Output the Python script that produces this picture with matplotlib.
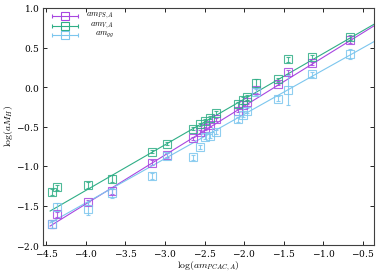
import numpy as np
import matplotlib
matplotlib.use("Agg")
import matplotlib.pyplot as plt

plt.rcParams["mathtext.fontset"] = "cm"
plt.rcParams["font.family"] = "serif"
plt.rcParams["font.serif"] = ["DejaVu Serif"]
plt.rcParams["axes.formatter.use_mathtext"] = True

# -----------------------
# Data
# -----------------------
x_pcac = [-4.43, -4.36, -3.97, -3.67, -3.16, -2.97, -2.64, -2.56, -2.49, -2.43,
          -2.35, -2.08, -2.02, -1.96, -1.85, -1.57, -1.45, -1.14, -0.66]

y_ps = [-1.73, -1.61, -1.46, -1.32, -0.96, -0.86, -0.65, -0.57, -0.52, -0.48,
        -0.41, -0.30, -0.23, -0.19, -0.04, 0.04, 0.19, 0.30, 0.59]
e_ps = [0.05, 0.03, 0.03, 0.03, 0.03, 0.02, 0.02, 0.02, 0.02, 0.02,
        0.02, 0.02, 0.02, 0.02, 0.03, 0.02, 0.03, 0.02, 0.03]

y_v = [-1.33, -1.27, -1.24, -1.16, -0.82, -0.72, -0.53, -0.47, -0.43, -0.39,
       -0.33, -0.22, -0.17, -0.13, 0.05, 0.10, 0.35, 0.38, 0.63]
e_v = [0.04, 0.03, 0.04, 0.04, 0.02, 0.02, 0.02, 0.02, 0.02, 0.02,
       0.02, 0.03, 0.04, 0.03, 0.05, 0.02, 0.03, 0.02, 0.03]

y_gg = [-1.74, -1.52, -1.54, -1.34, -1.13, -0.87, -0.89, -0.76, -0.63, -0.62,
        -0.57, -0.41, -0.35, -0.30, -0.06, -0.15, -0.04, 0.16, 0.42]
e_gg = [0.05, 0.05, 0.08, 0.06, 0.04, 0.03, 0.03, 0.03, 0.03, 0.03,
        0.03, 0.03, 0.03, 0.03, 0.04, 0.03, 0.19, 0.03, 0.06]

# fit lines (end points)
fit_x = [-4.45, -0.35]
fit_ps = [-1.76, 0.78]
fit_v = [-1.57, 0.80]
fit_gg = [-1.72, 0.58]

labels = [r"$am_{PS,A}$", r"$am_{V,A}$", r"$am_{gg}$"]
colors = ["#a846e0", "#2fae86", "#7cc6ee"]

# -----------------------
# Plot
# -----------------------
fig = plt.figure(figsize=(3.9, 2.73), dpi=100)
ax = fig.add_axes([43 / 390, 28 / 273, 331 / 390, 237 / 273])

series = [(y_ps, e_ps, fit_ps), (y_v, e_v, fit_v), (y_gg, e_gg, fit_gg)]
for (ys, es, fit), c in zip(series, colors):
    ax.errorbar(x_pcac, ys, yerr=es, fmt="s", ms=6, mfc="none", mec=c,
                mew=0.8, ecolor=c, elinewidth=0.8, capsize=1.2, alpha=0.85)
    ax.plot(fit_x, fit, color=c, lw=0.8)

# legend drawn by hand (gnuplot style, right-justified text)
for i, (lab, c) in enumerate(zip(labels, colors)):
    yk = 0.966 - i * 0.04
    ax.errorbar([0.066], [yk], xerr=[0.04], fmt="s", ms=6, mfc="none",
                mec=c, mew=0.8, ecolor=c, elinewidth=0.8, capsize=1.2,
                transform=ax.transAxes)
    ax.text(0.215, yk, lab, transform=ax.transAxes, ha="right",
            va="center", fontsize=6)

ax.set_xlim(-4.54, -0.36)
ax.set_ylim(-2, 1)
ax.set_xticks(np.arange(-4.5, -0.4, 0.5))
ax.set_yticks(np.arange(-2, 1.01, 0.5))
ax.tick_params(direction="in", length=3, width=0.6, labelsize=6.5,
               top=True, right=True, pad=2.5)
for s in ax.spines.values():
    s.set_linewidth(0.8)
    s.set_color("#404040")

ax.set_xlabel(r"$\log(am_{PCAC,A})$", fontsize=7)
ax.xaxis.set_label_coords(0.5, -0.058)
ax.set_ylabel(r"$\log(aM_H)$", fontsize=7)
ax.yaxis.set_label_coords(-0.085, 0.5)

plt.savefig("out.png", dpi=100)
